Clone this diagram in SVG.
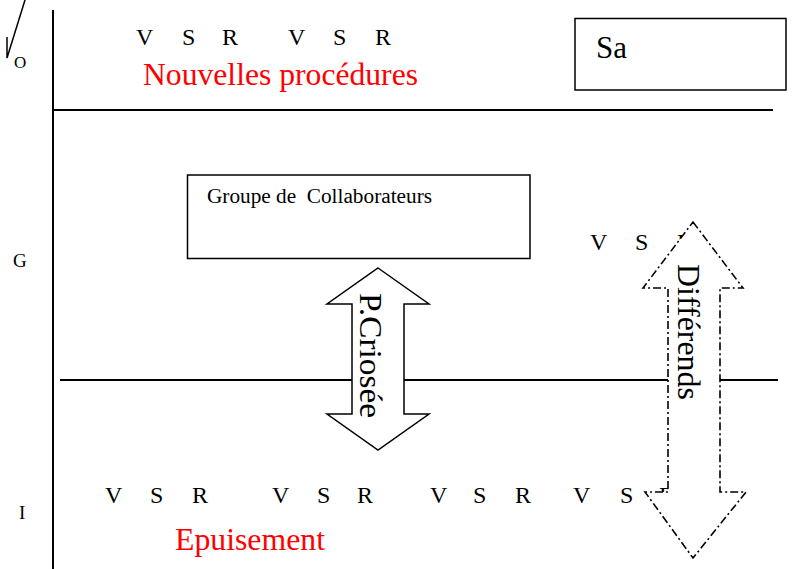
<svg xmlns="http://www.w3.org/2000/svg" width="795" height="569" viewBox="0 0 795 569">
<style>
.t{font-family:"Liberation Serif","Times New Roman",serif;fill:#000}
.red{fill:#ff0000}
.ln{stroke:#000;stroke-width:2;fill:none}
.box{stroke:#000;stroke-width:1.5;fill:#fff}
.arr{stroke:#000;stroke-width:1.5;fill:#fff;stroke-linejoin:miter}
.dash{stroke:#000;stroke-width:1.6;fill:#fff;stroke-dasharray:8 3 2 3}
</style>
<rect width="795" height="569" fill="#fff"/>
<g id="frame">
<polyline class="ln" points="7,37 7,58 25,0" style="stroke-width:1.5"/>
<line class="ln" x1="53" y1="10" x2="53" y2="569"/>
<line class="ln" x1="53" y1="110" x2="773" y2="110"/>
<line class="ln" x1="60" y1="380" x2="778" y2="380"/>
<text class="t" x="14" y="68" font-size="17">O</text>
<text class="t" x="13" y="267" font-size="19">G</text>
<text class="t" x="19" y="519" font-size="19">I</text>
</g>
<g id="top-labels" class="t" font-size="24">
<text x="136" y="45">V</text><text x="182" y="45">S</text><text x="222" y="45">R</text>
<text x="288" y="45">V</text><text x="333" y="45">S</text><text x="375" y="45">R</text>
<text class="t red" x="143" y="85" font-size="31" textLength="275" lengthAdjust="spacingAndGlyphs">Nouvelles procédures</text>
</g>
<g id="sa">
<rect class="box" x="575" y="18.5" width="211" height="71.5"/>
<text class="t" x="596" y="58" font-size="31">Sa</text>
</g>
<g id="groupe">
<rect class="box" x="187.5" y="175" width="342.5" height="83.5"/>
<text class="t" x="207" y="203" font-size="20" xml:space="preserve" textLength="225" lengthAdjust="spacingAndGlyphs">Groupe de  Collaborateurs</text>
</g>
<g id="mid-labels" class="t" font-size="24">
<text x="590" y="250">V</text><text x="635" y="250">S</text><text x="677" y="250">R</text>
</g>
<g id="bottom-labels" class="t" font-size="24">
<text x="105" y="503">V</text><text x="150" y="503">S</text><text x="192" y="503">R</text>
<text x="272" y="503">V</text><text x="317" y="503">S</text><text x="357" y="503">R</text>
<text x="430" y="503">V</text><text x="473" y="503">S</text><text x="515" y="503">R</text>
<text x="573" y="503">V</text><text x="620" y="503">S</text><text x="659" y="503">R</text>
<text class="t red" x="175" y="550" font-size="31" textLength="150" lengthAdjust="spacingAndGlyphs">Epuisement</text>
</g>
<g id="connectors">
<g id="arrow-criosee">
<polygon class="arr" points="378,268 429,304 404,304 404,414 429,414 378,450 327,414 352,414 352,304 327,304"/>
<text class="t" font-size="31" transform="translate(360,293) rotate(90)" textLength="125" lengthAdjust="spacingAndGlyphs">P.Criosée</text>
</g>
<g id="arrow-differends">
<polygon class="dash" points="693,222 743,288 720,288 720,492 746,492 693,558 645,492 668,492 668,288 643,288"/>
<text class="t" font-size="31" transform="translate(678,264) rotate(90)" textLength="136" lengthAdjust="spacingAndGlyphs">Différends</text>
</g>
</g>
</svg>
